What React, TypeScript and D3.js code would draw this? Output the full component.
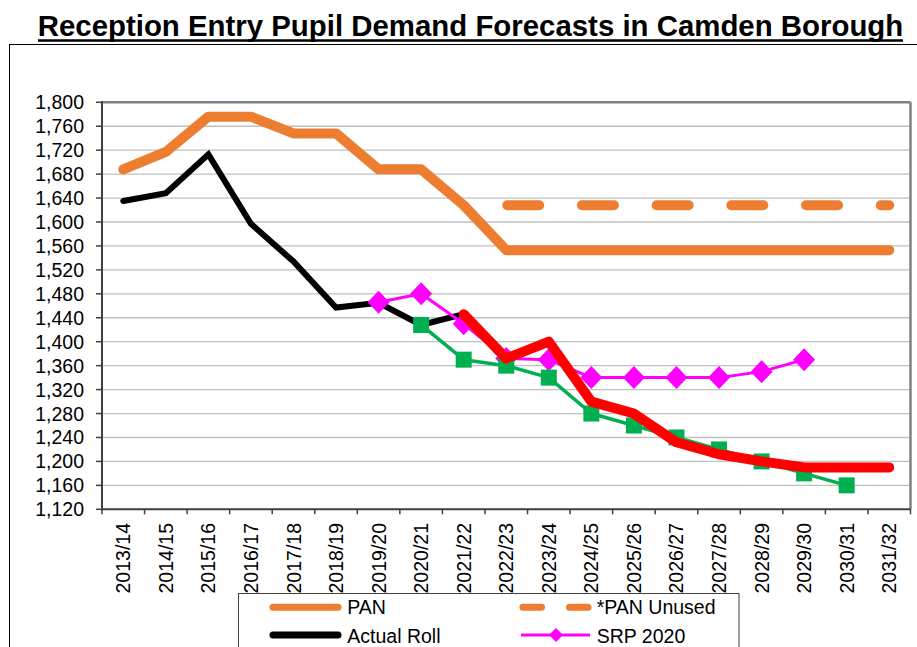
import React from "react";
import * as d3 from "d3";

const categories = [
  "2013/14", "2014/15", "2015/16", "2016/17", "2017/18", "2018/19", "2019/20",
  "2020/21", "2021/22", "2022/23", "2023/24", "2024/25", "2025/26", "2026/27",
  "2027/28", "2028/29", "2029/30", "2030/31", "2031/32",
];

const pan: (number | null)[] = [1688, 1717, 1776, 1776, 1748, 1748, 1688, 1688, 1628, 1553, 1553, 1553, 1553, 1553, 1553, 1553, 1553, 1553, 1553];
const panUnused: (number | null)[] = [null, null, null, null, null, null, null, null, null, 1628, 1628, 1628, 1628, 1628, 1628, 1628, 1628, 1628, 1628];
const actualRoll: (number | null)[] = [1635, 1648, 1713, 1597, 1534, 1457, 1465, 1428, 1446, null, null, null, null, null, null, null, null, null, null];
const srp2020: (number | null)[] = [null, null, null, null, null, null, 1466, 1480, 1430, 1372, 1370, 1340, 1340, 1340, 1340, 1350, 1370, null, null];
const greenSeries: (number | null)[] = [null, null, null, null, null, null, null, 1428, 1370, 1360, 1340, 1280, 1260, 1240, 1220, 1200, 1180, 1160, null];
const redSeries: (number | null)[] = [null, null, null, null, null, null, null, null, 1446, 1372, 1400, 1300, 1280, 1232, 1212, 1200, 1190, 1190, 1190];

const yMin = 1120;
const yMax = 1800;
const yStep = 40;

const title = "Reception Entry Pupil Demand Forecasts in Camden Borough";

const ORANGE = "#ED7D31";
const MAGENTA = "#FF00FF";
const GREEN = "#00B050";
const RED = "#FF0000";
const FONT = "'Liberation Sans', Arial, sans-serif";

export default function App() {
  const left = 102;
  const right = 910.5;
  const top = 102.3;
  const bottom = 509.3;

  const x = d3.scaleBand<string>().domain(categories).range([left, right]);
  const y = d3.scaleLinear().domain([yMin, yMax]).range([bottom, top]);
  const cx = (i: number) => (x(categories[i]) as number) + x.bandwidth() / 2;

  const line = d3
    .line<number | null>()
    .defined((d) => d != null)
    .x((_, i) => cx(i))
    .y((d) => y(d as number));

  const yTicks = d3.range(yMin, yMax + 1, yStep);
  const fmt = d3.format(",");

  const pts = (arr: (number | null)[]) =>
    arr.map((v, i) => (v == null ? null : { x: cx(i), y: y(v) })).filter((p) => p) as { x: number; y: number }[];

  const legendLeft = 238.5;
  const legendRight = 739;
  const legendTop = 593.5;

  return (
    <div style={{ position: "absolute", left: 0, top: 0 }}>
      <svg width={917} height={647} style={{ display: "block", background: "#fff" }} fontFamily={FONT}>
        {/* outer frame */}
        <rect x={9.5} y={44.5} width={930} height={640} fill="#fff" stroke="#000" strokeWidth={1} />

        {/* title */}
        <text x={470.5} y={36} fontSize={29.4} fontWeight="bold" textAnchor="middle" fill="#000">
          {title}
        </text>
        <line x1={38} x2={903} y1={40.5} y2={40.5} stroke="#000" strokeWidth={2.5} />

        {/* gridlines */}
        {yTicks.map((t) => (
          <line key={"g" + t} x1={left} x2={right} y1={y(t)} y2={y(t)} stroke="#c0c0c0" strokeWidth={1.3} />
        ))}
        {/* plot border top/right */}
        <line x1={left} x2={right} y1={top} y2={top} stroke="#808080" strokeWidth={2.5} />
        <line x1={right} x2={right} y1={top} y2={bottom} stroke="#808080" strokeWidth={2.5} />

        {/* y axis */}
        <line x1={left} x2={left} y1={top - 1} y2={bottom + 1} stroke="#404040" strokeWidth={2} />
        {yTicks.map((t) => (
          <g key={"y" + t}>
            <line x1={left - 6} x2={left} y1={y(t)} y2={y(t)} stroke="#404040" strokeWidth={1.5} />
            <text x={84} y={y(t)} dy="0.36em" textAnchor="end" fontSize={19.5} fill="#000">
              {fmt(t)}
            </text>
          </g>
        ))}

        {/* x axis */}
        <line x1={left - 1} x2={right} y1={bottom} y2={bottom} stroke="#404040" strokeWidth={2} />
        {d3.range(categories.length + 1).map((i) => {
          const xx = left + i * x.bandwidth();
          return <line key={"xt" + i} x1={xx} x2={xx} y1={bottom} y2={bottom + 5} stroke="#404040" strokeWidth={1.5} />;
        })}
        {categories.map((c, i) => (
          <text
            key={"xl" + c}
            transform={`translate(${cx(i)},${523}) rotate(-90)`}
            textAnchor="end"
            dy="0.36em"
            fontSize={19.5}
            fill="#000"
          >
            {c}
          </text>
        ))}

        {/* series */}
        <path d={line(pan) || ""} fill="none" stroke={ORANGE} strokeWidth={10} strokeLinejoin="round" strokeLinecap="round" />
        <path
          d={line(panUnused) || ""}
          fill="none"
          stroke={ORANGE}
          strokeWidth={10}
          strokeLinecap="round"
          strokeDasharray="32 42.7"
          strokeDashoffset={-1}
        />
        <path d={line(actualRoll) || ""} fill="none" stroke="#000" strokeWidth={6} strokeLinejoin="miter" strokeLinecap="round" />
        <path d={line(srp2020) || ""} fill="none" stroke={MAGENTA} strokeWidth={3} strokeLinejoin="round" />
        {pts(srp2020).map((p, i) => (
          <path key={"d" + i} d={`M${p.x},${p.y - 11.5}L${p.x + 11},${p.y}L${p.x},${p.y + 11.5}L${p.x - 11},${p.y}Z`} fill={MAGENTA} />
        ))}
        <path d={line(greenSeries) || ""} fill="none" stroke={GREEN} strokeWidth={3.5} strokeLinejoin="round" />
        {pts(greenSeries).map((p, i) => (
          <rect key={"s" + i} x={p.x - 8} y={p.y - 8} width={16} height={16} fill={GREEN} />
        ))}
        <path d={line(redSeries) || ""} fill="none" stroke={RED} strokeWidth={10} strokeLinejoin="round" strokeLinecap="round" />

        {/* legend */}
        <rect x={legendLeft} y={legendTop} width={legendRight - legendLeft} height={120} fill="#fff" stroke="#404040" strokeWidth={1} />
        <line x1={273} x2={338} y1={607.3} y2={607.3} stroke={ORANGE} strokeWidth={7} strokeLinecap="round" />
        <text x={347.3} y={614} fontSize={19.5} fill="#000">PAN</text>
        <line x1={273} x2={338} y1={635} y2={635} stroke="#000" strokeWidth={7} strokeLinecap="round" />
        <text x={347.3} y={642.5} fontSize={19.5} fill="#000">Actual Roll</text>
        <line x1={523} x2={541.5} y1={607.3} y2={607.3} stroke={ORANGE} strokeWidth={7} strokeLinecap="round" />
        <line x1={569.5} x2={588} y1={607.3} y2={607.3} stroke={ORANGE} strokeWidth={7} strokeLinecap="round" />
        <text x={596.7} y={614} fontSize={19.5} fill="#000">*PAN Unused</text>
        <line x1={521} x2={590} y1={635} y2={635} stroke={MAGENTA} strokeWidth={3} />
        <path d="M556,628L563,635L556,642L549,635Z" fill={MAGENTA} />
        <text x={596.7} y={642.5} fontSize={19.5} fill="#000">SRP 2020</text>
      </svg>
    </div>
  );
}
